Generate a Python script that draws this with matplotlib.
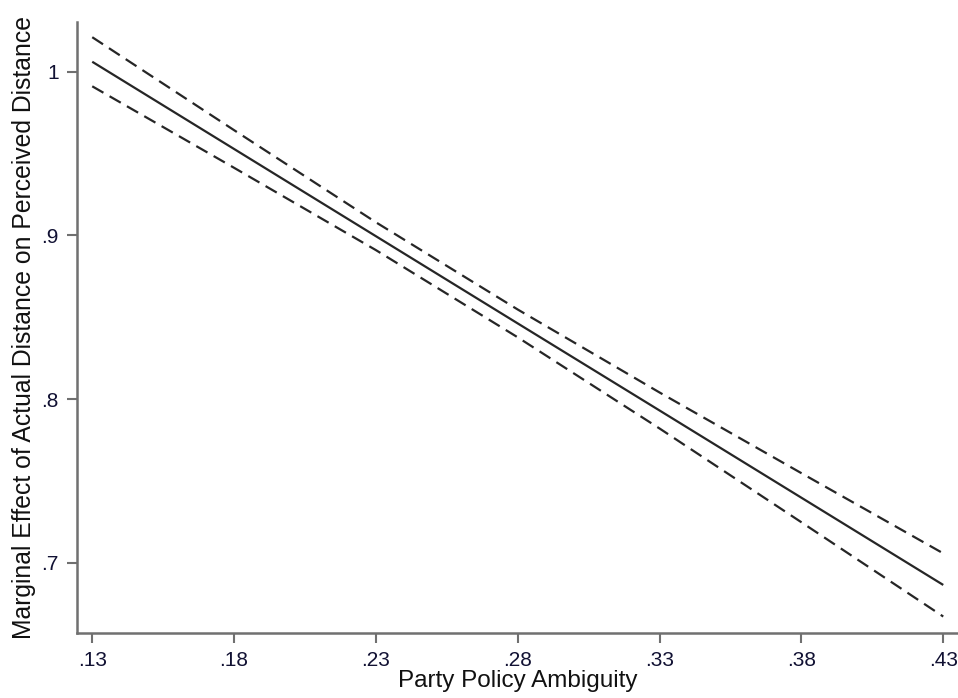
import numpy as np
import matplotlib
matplotlib.use('Agg')
import matplotlib.pyplot as plt

plt.rcParams['font.family'] = ['Liberation Sans', 'DejaVu Sans']

# 数据
ambiguity = [0.13, 0.18, 0.23, 0.28, 0.33, 0.38, 0.43]
effect = [1.0061, 0.9528, 0.8995, 0.8462, 0.7930, 0.7397, 0.6864]
ci_upper = [1.0211, 0.9643, 0.9080, 0.8547, 0.8040, 0.7547, 0.7057]
ci_lower = [0.9911, 0.9413, 0.8910, 0.8377, 0.7820, 0.7247, 0.6671]

x_ticks = [0.13, 0.18, 0.23, 0.28, 0.33, 0.38, 0.43]
x_labels = ['.13', '.18', '.23', '.28', '.33', '.38', '.43']
y_ticks = [0.7, 0.8, 0.9, 1.0]
y_labels = ['.7', '.8', '.9', '1']

fig = plt.figure(figsize=(9.58, 6.98), dpi=100)
ax = fig.add_axes([0.080, 0.0935, 0.92, 0.875])

ax.plot(ambiguity, effect, color='#262626', lw=1.6, solid_capstyle='butt')
ax.plot(ambiguity, ci_upper, color='#262626', lw=1.6, ls=(0, (5.8, 3.2)))
ax.plot(ambiguity, ci_lower, color='#262626', lw=1.6, ls=(0, (5.8, 3.2)))

ax.set_xlim(0.1245, 0.4352)
ax.set_ylim(0.6572, 1.0304)
ax.set_xticks(x_ticks)
ax.set_xticklabels(x_labels)
ax.set_yticks(y_ticks)
ax.set_yticklabels(y_labels)

for side in ['top', 'right']:
    ax.spines[side].set_visible(False)
for side in ['left', 'bottom']:
    ax.spines[side].set_color('#707070')
    ax.spines[side].set_linewidth(1.8)

ax.tick_params(axis='both', length=7, width=1.5, color='#707070',
               labelsize=15, labelcolor='#111133', pad=6)

ax.set_xlabel('Party Policy Ambiguity', fontsize=17.5, color='#111111', labelpad=0)
ax.set_ylabel('Marginal Effect of Actual Distance on Perceived Distance',
              fontsize=17.8, color='#111111', labelpad=4)

fig.savefig('out.png', dpi=100)
